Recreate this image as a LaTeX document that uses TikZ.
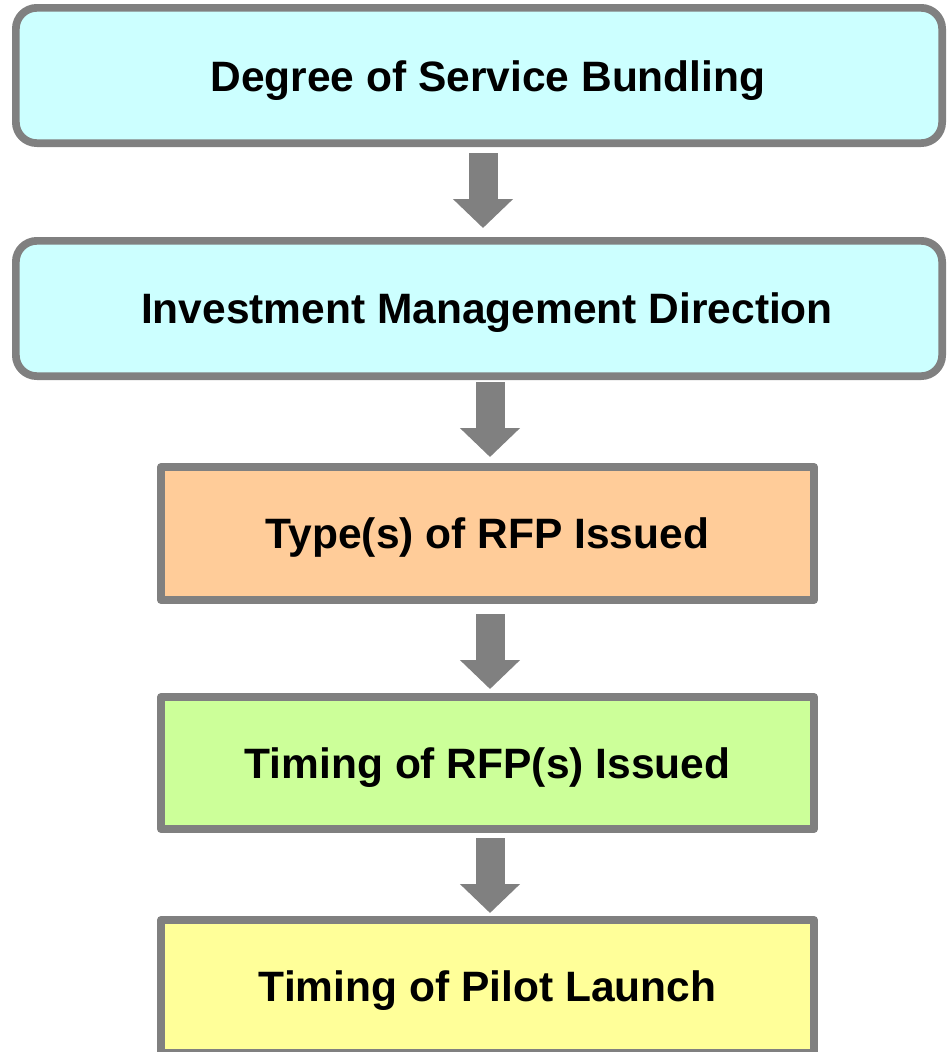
\documentclass[tikz,border=0pt]{standalone}
\usepackage{fontspec}
\setmainfont{Liberation Sans}
\usetikzlibrary{arrows.meta}
\definecolor{bordergray}{HTML}{808080}
\definecolor{cyanfill}{HTML}{CCFFFF}
\definecolor{orangefill}{HTML}{FFCC99}
\definecolor{greenfill}{HTML}{CCFF99}
\definecolor{yellowfill}{HTML}{FFFF99}
\tikzset{
  boxbase/.style={draw=bordergray, line width=7.7pt, inner sep=0pt, outer sep=0pt, line join=round},
  roundbox/.style={boxbase, rounded corners=21pt, minimum width=926.3pt, minimum height=135.3pt},
  flatbox/.style={boxbase, minimum width=653.3pt, minimum height=133.3pt},
  lbl/.style={font=\fontsize{42.5}{50}\selectfont\bfseries, text height=30.4pt, text depth=0pt, inner sep=0pt, outer sep=0pt},
  bigarrow/.style={draw=bordergray, line width=29pt, line cap=butt, -{Triangle[width=58.5pt,length=29pt]}}
}
\begin{document}
\begin{tikzpicture}[x=1pt,y=-1pt]
\useasboundingbox (0,0) rectangle (946,1052);
\node[roundbox, fill=cyanfill, label={[lbl, xshift=9pt, yshift=-1pt]center:Degree of Service Bundling}] (b1) at (479,75.5) {};
\node[roundbox, fill=cyanfill, label={[lbl, xshift=8pt]center:Investment Management Direction}] (b2) at (479,308.5) {};
\node[flatbox, fill=orangefill, label={[lbl]center:Type(s) of RFP Issued}] (b3) at (487.5,533.5) {};
\node[flatbox, fill=greenfill, minimum height=132.3pt, label={[lbl]center:Timing of RFP(s) Issued}] (b4) at (487.5,763) {};
\node[flatbox, fill=yellowfill, label={[lbl]center:Timing of Pilot Launch}] (b5) at (487.5,986.5) {};
\draw[bigarrow] ([xshift=4pt,yshift=-9.85pt]b1.south) -- ([xshift=4pt,yshift=12.85pt]b2.north);
\draw[bigarrow] ([xshift=11pt,yshift=-5.85pt]b2.south) -- ([xshift=2.5pt,yshift=9.85pt]b3.north);
\draw[bigarrow] ([xshift=2.5pt,yshift=-13.85pt]b3.south) -- ([xshift=2.5pt,yshift=7.85pt]b4.north);
\draw[bigarrow] ([xshift=2.5pt,yshift=-8.85pt]b4.south) -- ([xshift=2.5pt,yshift=6.85pt]b5.north);
\end{tikzpicture}
\end{document}
